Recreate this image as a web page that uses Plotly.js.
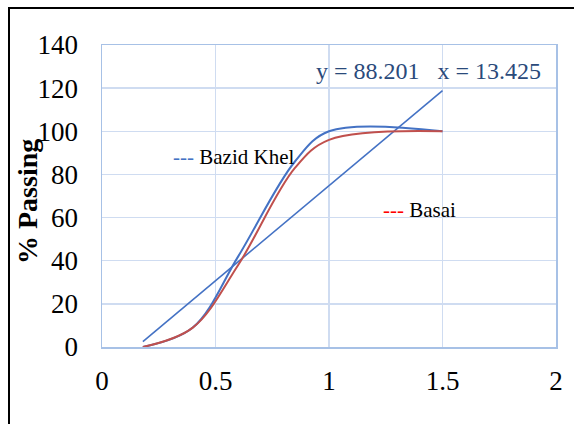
<!DOCTYPE html>
<html>
<head>
<meta charset="utf-8">
<script src="https://cdn.plot.ly/plotly-3.0.1.min.js"></script>
<style>
  html, body { margin: 0; padding: 0; background: #fff; }
  #chart { width: 574px; height: 424px; }
  #frame { position: absolute; left: 8px; top: 7px; width: 600px; height: 500px;
           border-left: 2px solid #000; border-top: 2px solid #000; pointer-events: none; }
</style>
</head>
<body>
<div id="chart"></div>
<div id="frame"></div>
<script>
// Data
const bazidX = [0.18, 0.4, 0.6, 0.85, 1.0, 1.5];
const bazidY = [0, 9, 42, 86, 100, 100];
const basaiX = [0.18, 0.4, 0.6, 0.85, 1.0, 1.5];
const basaiY = [0, 9, 38, 83, 96, 100];
const trendX = [0.18, 1.5];
const trendY = [2.5, 118.9];
const xTicks = [0, 0.5, 1, 1.5, 2];
const xTickText = ["0", "0.5", "1", "1.5", "2"];
const yTicks = [0, 20, 40, 60, 80, 100, 120, 140];
const yTickText = ["0", "20", "40", "60", "80", "100", "120", "140"];
const labels = {
  equation: "y = 88.201   x = 13.425",
  bazid: "Bazid Khel",
  basai: "Basai",
  yTitle: "% Passing"
};

const blue = "#4472C4";
const red = "#C0504D";
const serif = "'Liberation Serif', 'Times New Roman', serif";

const traces = [
  { x: trendX, y: trendY, mode: "lines", line: { color: blue, width: 1.6 }, hoverinfo: "skip" },
  { x: bazidX, y: bazidY, mode: "lines", line: { color: blue, width: 2, shape: "spline", smoothing: 1 } },
  { x: basaiX, y: basaiY, mode: "lines", line: { color: red, width: 2, shape: "spline", smoothing: 1 } }
];

const gridCol = "#cfdcf1";
const layout = {
  width: 574, height: 424,
  margin: { l: 102, r: 18, t: 45, b: 77 },
  paper_bgcolor: "#fff", plot_bgcolor: "#fff",
  showlegend: false,
  font: { family: serif, color: "#000", size: 24 },
  xaxis: {
    range: [0, 2], tickvals: xTicks, ticktext: xTickText,
    showgrid: true, gridcolor: gridCol, gridwidth: 1.5,
    showline: true, linecolor: "#a7c1e6", linewidth: 1.5, mirror: true,
    zeroline: false, ticks: "", ticklabelstandoff: 9,
    tickfont: { family: serif, size: 27, color: "#000" }
  },
  yaxis: {
    range: [0, 140], tickvals: yTicks, ticktext: yTickText,
    showgrid: true, gridcolor: gridCol, gridwidth: 1.5,
    showline: true, linecolor: "#a7c1e6", linewidth: 1.5, mirror: true,
    zeroline: false, ticks: "", ticklabelstandoff: 17,
    tickfont: { family: serif, size: 27, color: "#000" }
  },
  annotations: [
    { x: 1.437, y: 128, xref: "x", yref: "y", text: labels.equation, showarrow: false,
      xanchor: "center", yanchor: "middle", font: { family: serif, size: 24, color: "#2a4a7b" } },
    { x: 0.581, y: 88, xref: "x", yref: "y", showarrow: false, xanchor: "center", yanchor: "middle",
      text: '<span style="color:' + blue + '">---</span> ' + labels.bazid,
      font: { family: serif, size: 21, color: "#000" } },
    { x: 1.397, y: 63.4, xref: "x", yref: "y", showarrow: false, xanchor: "center", yanchor: "middle",
      text: '<span style="color:#ff0000">---</span> ' + labels.basai,
      font: { family: serif, size: 21, color: "#000" } },
    { x: -0.164, y: 0.482, xref: "paper", yref: "paper", showarrow: false, textangle: -90,
      xanchor: "center", yanchor: "middle", text: "<b>" + labels.yTitle + "</b>",
      font: { family: serif, size: 28, color: "#000" } }
  ]
};

Plotly.newPlot("chart", traces, layout, { staticPlot: true, displayModeBar: false });
</script>
</body>
</html>
